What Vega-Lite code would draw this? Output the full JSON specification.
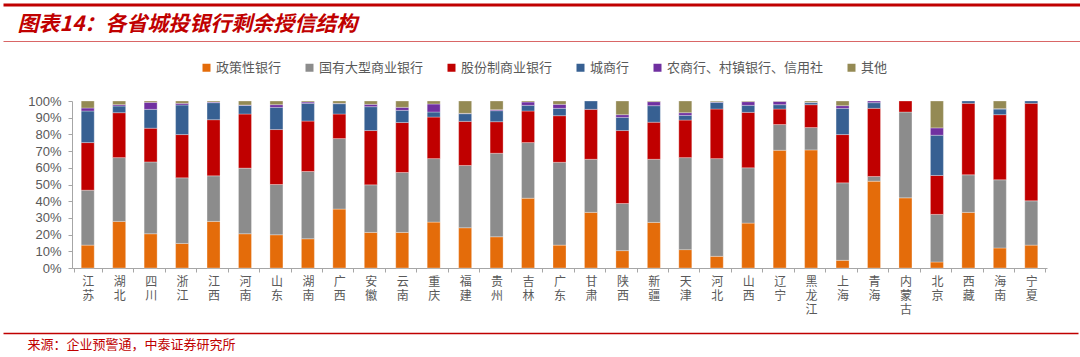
{
  "$schema": "https://vega.github.io/schema/vega-lite/v6.json",
  "width": 975,
  "height": 167,
  "autosize": {"type": "none"},
  "padding": {"left": 72, "top": 101, "right": 33, "bottom": 89},
  "background": "white",
  "config": {
    "view": {"stroke": null},
    "font": "Noto Sans CJK SC"
  },
  "data": {"values": [
    {"p":"江苏","t":"政策性银行","k":1,"v":13.7},{"p":"江苏","t":"国有大型商业银行","k":2,"v":32.9},{"p":"江苏","t":"股份制商业银行","k":3,"v":28.5},{"p":"江苏","t":"城商行","k":4,"v":18.9},{"p":"江苏","t":"农商行、村镇银行、信用社","k":5,"v":1.8},{"p":"江苏","t":"其他","k":6,"v":4.2},
    {"p":"湖北","t":"政策性银行","k":1,"v":27.9},{"p":"湖北","t":"国有大型商业银行","k":2,"v":38.2},{"p":"湖北","t":"股份制商业银行","k":3,"v":26.9},{"p":"湖北","t":"城商行","k":4,"v":4.0},{"p":"湖北","t":"农商行、村镇银行、信用社","k":5,"v":0.8},{"p":"湖北","t":"其他","k":6,"v":2.2},
    {"p":"四川","t":"政策性银行","k":1,"v":20.5},{"p":"四川","t":"国有大型商业银行","k":2,"v":43.0},{"p":"四川","t":"股份制商业银行","k":3,"v":20.2},{"p":"四川","t":"城商行","k":4,"v":11.3},{"p":"四川","t":"农商行、村镇银行、信用社","k":5,"v":4.2},{"p":"四川","t":"其他","k":6,"v":0.8},
    {"p":"浙江","t":"政策性银行","k":1,"v":14.7},{"p":"浙江","t":"国有大型商业银行","k":2,"v":39.3},{"p":"浙江","t":"股份制商业银行","k":3,"v":25.9},{"p":"浙江","t":"城商行","k":4,"v":17.7},{"p":"浙江","t":"农商行、村镇银行、信用社","k":5,"v":1.0},{"p":"浙江","t":"其他","k":6,"v":1.4},
    {"p":"江西","t":"政策性银行","k":1,"v":27.9},{"p":"江西","t":"国有大型商业银行","k":2,"v":27.3},{"p":"江西","t":"股份制商业银行","k":3,"v":33.6},{"p":"江西","t":"城商行","k":4,"v":10.2},{"p":"江西","t":"农商行、村镇银行、信用社","k":5,"v":0.4},{"p":"江西","t":"其他","k":6,"v":0.6},
    {"p":"河南","t":"政策性银行","k":1,"v":20.5},{"p":"河南","t":"国有大型商业银行","k":2,"v":39.3},{"p":"河南","t":"股份制商业银行","k":3,"v":32.4},{"p":"河南","t":"城商行","k":4,"v":5.2},{"p":"河南","t":"农商行、村镇银行、信用社","k":5,"v":0.2},{"p":"河南","t":"其他","k":6,"v":2.4},
    {"p":"山东","t":"政策性银行","k":1,"v":19.9},{"p":"山东","t":"国有大型商业银行","k":2,"v":30.1},{"p":"山东","t":"股份制商业银行","k":3,"v":32.9},{"p":"山东","t":"城商行","k":4,"v":13.3},{"p":"山东","t":"农商行、村镇银行、信用社","k":5,"v":1.6},{"p":"山东","t":"其他","k":6,"v":2.2},
    {"p":"湖南","t":"政策性银行","k":1,"v":17.5},{"p":"湖南","t":"国有大型商业银行","k":2,"v":40.3},{"p":"湖南","t":"股份制商业银行","k":3,"v":30.2},{"p":"湖南","t":"城商行","k":4,"v":10.6},{"p":"湖南","t":"农商行、村镇银行、信用社","k":5,"v":0.8},{"p":"湖南","t":"其他","k":6,"v":0.6},
    {"p":"广西","t":"政策性银行","k":1,"v":35.3},{"p":"广西","t":"国有大型商业银行","k":2,"v":42.2},{"p":"广西","t":"股份制商业银行","k":3,"v":14.7},{"p":"广西","t":"城商行","k":4,"v":6.2},{"p":"广西","t":"农商行、村镇银行、信用社","k":5,"v":0.2},{"p":"广西","t":"其他","k":6,"v":1.4},
    {"p":"安徽","t":"政策性银行","k":1,"v":21.3},{"p":"安徽","t":"国有大型商业银行","k":2,"v":28.5},{"p":"安徽","t":"股份制商业银行","k":3,"v":32.5},{"p":"安徽","t":"城商行","k":4,"v":14.3},{"p":"安徽","t":"农商行、村镇银行、信用社","k":5,"v":1.4},{"p":"安徽","t":"其他","k":6,"v":2.0},
    {"p":"云南","t":"政策性银行","k":1,"v":21.3},{"p":"云南","t":"国有大型商业银行","k":2,"v":35.9},{"p":"云南","t":"股份制商业银行","k":3,"v":29.9},{"p":"云南","t":"城商行","k":4,"v":7.3},{"p":"云南","t":"农商行、村镇银行、信用社","k":5,"v":1.8},{"p":"云南","t":"其他","k":6,"v":3.8},
    {"p":"重庆","t":"政策性银行","k":1,"v":27.5},{"p":"重庆","t":"国有大型商业银行","k":2,"v":38.0},{"p":"重庆","t":"股份制商业银行","k":3,"v":24.9},{"p":"重庆","t":"城商行","k":4,"v":3.0},{"p":"重庆","t":"农商行、村镇银行、信用社","k":5,"v":4.8},{"p":"重庆","t":"其他","k":6,"v":1.8},
    {"p":"福建","t":"政策性银行","k":1,"v":24.1},{"p":"福建","t":"国有大型商业银行","k":2,"v":37.3},{"p":"福建","t":"股份制商业银行","k":3,"v":26.4},{"p":"福建","t":"城商行","k":4,"v":4.6},{"p":"福建","t":"农商行、村镇银行、信用社","k":5,"v":0.2},{"p":"福建","t":"其他","k":6,"v":7.4},
    {"p":"贵州","t":"政策性银行","k":1,"v":18.7},{"p":"贵州","t":"国有大型商业银行","k":2,"v":50.0},{"p":"贵州","t":"股份制商业银行","k":3,"v":18.9},{"p":"贵州","t":"城商行","k":4,"v":6.6},{"p":"贵州","t":"农商行、村镇银行、信用社","k":5,"v":0.6},{"p":"贵州","t":"其他","k":6,"v":5.2},
    {"p":"吉林","t":"政策性银行","k":1,"v":41.8},{"p":"吉林","t":"国有大型商业银行","k":2,"v":33.3},{"p":"吉林","t":"股份制商业银行","k":3,"v":18.9},{"p":"吉林","t":"城商行","k":4,"v":3.4},{"p":"吉林","t":"农商行、村镇银行、信用社","k":5,"v":2.0},{"p":"吉林","t":"其他","k":6,"v":0.6},
    {"p":"广东","t":"政策性银行","k":1,"v":13.7},{"p":"广东","t":"国有大型商业银行","k":2,"v":49.6},{"p":"广东","t":"股份制商业银行","k":3,"v":27.9},{"p":"广东","t":"城商行","k":4,"v":4.4},{"p":"广东","t":"农商行、村镇银行、信用社","k":5,"v":2.4},{"p":"广东","t":"其他","k":6,"v":2.0},
    {"p":"甘肃","t":"政策性银行","k":1,"v":33.3},{"p":"甘肃","t":"国有大型商业银行","k":2,"v":31.8},{"p":"甘肃","t":"股份制商业银行","k":3,"v":29.9},{"p":"甘肃","t":"城商行","k":4,"v":5.0},
    {"p":"陕西","t":"政策性银行","k":1,"v":10.4},{"p":"陕西","t":"国有大型商业银行","k":2,"v":28.2},{"p":"陕西","t":"股份制商业银行","k":3,"v":43.7},{"p":"陕西","t":"城商行","k":4,"v":7.9},{"p":"陕西","t":"农商行、村镇银行、信用社","k":5,"v":1.6},{"p":"陕西","t":"其他","k":6,"v":8.2},
    {"p":"新疆","t":"政策性银行","k":1,"v":27.3},{"p":"新疆","t":"国有大型商业银行","k":2,"v":37.8},{"p":"新疆","t":"股份制商业银行","k":3,"v":22.2},{"p":"新疆","t":"城商行","k":4,"v":9.9},{"p":"新疆","t":"农商行、村镇银行、信用社","k":5,"v":2.4},{"p":"新疆","t":"其他","k":6,"v":0.4},
    {"p":"天津","t":"政策性银行","k":1,"v":11.0},{"p":"天津","t":"国有大型商业银行","k":2,"v":55.1},{"p":"天津","t":"股份制商业银行","k":3,"v":22.5},{"p":"天津","t":"城商行","k":4,"v":2.8},{"p":"天津","t":"农商行、村镇银行、信用社","k":5,"v":1.6},{"p":"天津","t":"其他","k":6,"v":7.0},
    {"p":"河北","t":"政策性银行","k":1,"v":7.0},{"p":"河北","t":"国有大型商业银行","k":2,"v":58.5},{"p":"河北","t":"股份制商业银行","k":3,"v":29.7},{"p":"河北","t":"城商行","k":4,"v":4.0},{"p":"河北","t":"农商行、村镇银行、信用社","k":5,"v":0.3},{"p":"河北","t":"其他","k":6,"v":0.5},
    {"p":"山西","t":"政策性银行","k":1,"v":26.9},{"p":"山西","t":"国有大型商业银行","k":2,"v":33.1},{"p":"山西","t":"股份制商业银行","k":3,"v":33.2},{"p":"山西","t":"城商行","k":4,"v":4.2},{"p":"山西","t":"农商行、村镇银行、信用社","k":5,"v":2.2},{"p":"山西","t":"其他","k":6,"v":0.4},
    {"p":"辽宁","t":"政策性银行","k":1,"v":70.5},{"p":"辽宁","t":"国有大型商业银行","k":2,"v":15.4},{"p":"辽宁","t":"股份制商业银行","k":3,"v":9.3},{"p":"辽宁","t":"城商行","k":4,"v":2.6},{"p":"辽宁","t":"农商行、村镇银行、信用社","k":5,"v":2.0},{"p":"辽宁","t":"其他","k":6,"v":0.2},
    {"p":"黑龙江","t":"政策性银行","k":1,"v":70.7},{"p":"黑龙江","t":"国有大型商业银行","k":2,"v":13.4},{"p":"黑龙江","t":"股份制商业银行","k":3,"v":13.7},{"p":"黑龙江","t":"城商行","k":4,"v":1.2},{"p":"黑龙江","t":"农商行、村镇银行、信用社","k":5,"v":0.2},{"p":"黑龙江","t":"其他","k":6,"v":0.8},
    {"p":"上海","t":"政策性银行","k":1,"v":4.6},{"p":"上海","t":"国有大型商业银行","k":2,"v":46.4},{"p":"上海","t":"股份制商业银行","k":3,"v":28.9},{"p":"上海","t":"城商行","k":4,"v":15.7},{"p":"上海","t":"农商行、村镇银行、信用社","k":5,"v":1.6},{"p":"上海","t":"其他","k":6,"v":2.8},
    {"p":"青海","t":"政策性银行","k":1,"v":52.0},{"p":"青海","t":"国有大型商业银行","k":2,"v":2.8},{"p":"青海","t":"股份制商业银行","k":3,"v":40.8},{"p":"青海","t":"城商行","k":4,"v":3.4},{"p":"青海","t":"农商行、村镇银行、信用社","k":5,"v":1.0},
    {"p":"内蒙古","t":"政策性银行","k":1,"v":42.0},{"p":"内蒙古","t":"国有大型商业银行","k":2,"v":51.4},{"p":"内蒙古","t":"股份制商业银行","k":3,"v":6.6},
    {"p":"北京","t":"政策性银行","k":1,"v":3.6},{"p":"北京","t":"国有大型商业银行","k":2,"v":28.5},{"p":"北京","t":"股份制商业银行","k":3,"v":23.3},{"p":"北京","t":"城商行","k":4,"v":24.1},{"p":"北京","t":"农商行、村镇银行、信用社","k":5,"v":4.4},{"p":"北京","t":"其他","k":6,"v":16.1},
    {"p":"西藏","t":"政策性银行","k":1,"v":33.3},{"p":"西藏","t":"国有大型商业银行","k":2,"v":22.5},{"p":"西藏","t":"股份制商业银行","k":3,"v":42.8},{"p":"西藏","t":"城商行","k":4,"v":1.4},
    {"p":"海南","t":"政策性银行","k":1,"v":12.0},{"p":"海南","t":"国有大型商业银行","k":2,"v":40.8},{"p":"海南","t":"股份制商业银行","k":3,"v":39.0},{"p":"海南","t":"城商行","k":4,"v":3.4},{"p":"海南","t":"农商行、村镇银行、信用社","k":5,"v":0.2},{"p":"海南","t":"其他","k":6,"v":4.6},
    {"p":"宁夏","t":"政策性银行","k":1,"v":13.7},{"p":"宁夏","t":"国有大型商业银行","k":2,"v":26.5},{"p":"宁夏","t":"股份制商业银行","k":3,"v":58.4},{"p":"宁夏","t":"城商行","k":4,"v":1.4}
  ]},
  "resolve": {"scale": {"x": "independent"}, "axis": {"x": "independent"}},
  "layer": [
    {
      "mark": {"type": "bar", "width": 13, "stroke": "#ffffff", "strokeWidth": 0.6, "strokeOpacity": 0.5},
      "encoding": {
        "x": {
          "field": "p", "type": "nominal", "sort": null,
          "axis": {
            "orient": "bottom",
            "title": null,
            "labelAngle": 0,
            "labelExpr": "split(datum.label, '')",
            "labelFont": "Noto Sans CJK SC",
            "labelFontSize": 12,
            "labelColor": "#595959",
            "labelLineHeight": 14.3,
            "labelBaseline": "top",
            "labelPadding": 4,
            "tickBand": "extent",
            "tickSize": 4,
            "tickColor": "#a6a6a6",
            "domainColor": "#a6a6a6"
          }
        },
        "y": {
          "field": "v", "type": "quantitative", "stack": "normalize",
          "scale": {"domain": [0, 1]},
          "axis": {
            "title": null,
            "values": [0, 0.1, 0.2, 0.3, 0.4, 0.5, 0.6, 0.7, 0.8, 0.9, 1],
            "format": ".0%",
            "grid": false,
            "labelFont": "Liberation Sans",
            "labelFontSize": 13,
            "labelColor": "#595959",
            "labelPadding": 7,
            "tickSize": 4,
            "tickColor": "#a6a6a6",
            "domainColor": "#a6a6a6"
          }
        },
        "color": {
          "field": "t", "type": "nominal",
          "scale": {
            "domain": ["政策性银行", "国有大型商业银行", "股份制商业银行", "城商行", "农商行、村镇银行、信用社", "其他"],
            "range": ["#E46C0A", "#8C8C8C", "#C00000", "#376092", "#7030A0", "#948A54"]
          },
          "legend": {
            "title": null,
            "orient": "none",
            "legendX": 128,
            "legendY": -40,
            "direction": "horizontal",
            "symbolType": "square",
            "symbolSize": 64,
            "symbolStrokeWidth": 0,
            "labelFont": "Noto Sans CJK SC",
            "labelFontSize": 13,
            "labelColor": "#595959",
            "columnPadding": 21,
            "labelOffset": 3
          }
        },
        "order": {"field": "k", "type": "quantitative"}
      }
    },
    {
      "mark": {"type": "tick", "opacity": 0},
      "encoding": {
        "x": {
          "field": "p", "type": "nominal", "sort": null,
          "scale": {"range": [-69, 1008]},
          "axis": {
            "orient": "top",
            "offset": 60,
            "labels": false,
            "ticks": false,
            "domainColor": "#C00000",
            "domainOpacity": 0.6,
            "domainWidth": 1.2,
            "title": "图表14：各省城投银行剩余授信结构",
            "titleFont": "Noto Sans CJK SC",
            "titleFontSize": 21,
            "titleFontWeight": "bold",
            "titleFontStyle": "italic",
            "titleColor": "#C00000",
            "titleAlign": "left",
            "titleBaseline": "middle",
            "titleX": -55,
            "titleY": -17
          }
        }
      }
    },
    {
      "mark": {"type": "tick", "opacity": 0},
      "encoding": {
        "x": {
          "field": "p", "type": "nominal", "sort": null,
          "scale": {"range": [-69, 1008]},
          "axis": {
            "orient": "top",
            "offset": 96.5,
            "labels": false,
            "ticks": false,
            "title": null,
            "domainColor": "#C00000",
            "domainWidth": 3
          }
        }
      }
    },
    {
      "mark": {"type": "tick", "opacity": 0},
      "encoding": {
        "x": {
          "field": "p", "type": "nominal", "sort": null,
          "scale": {"range": [-69, 1006]},
          "axis": {
            "orient": "bottom",
            "offset": 65,
            "labels": false,
            "ticks": false,
            "domainColor": "#C00000",
            "domainWidth": 1.5,
            "title": "来源：企业预警通，中泰证券研究所",
            "titleFont": "Noto Sans CJK SC",
            "titleFontSize": 13,
            "titleFontWeight": "normal",
            "titleColor": "#C00000",
            "titleAlign": "left",
            "titleBaseline": "middle",
            "titleX": -45,
            "titleY": 11
          }
        }
      }
    }
  ]
}
